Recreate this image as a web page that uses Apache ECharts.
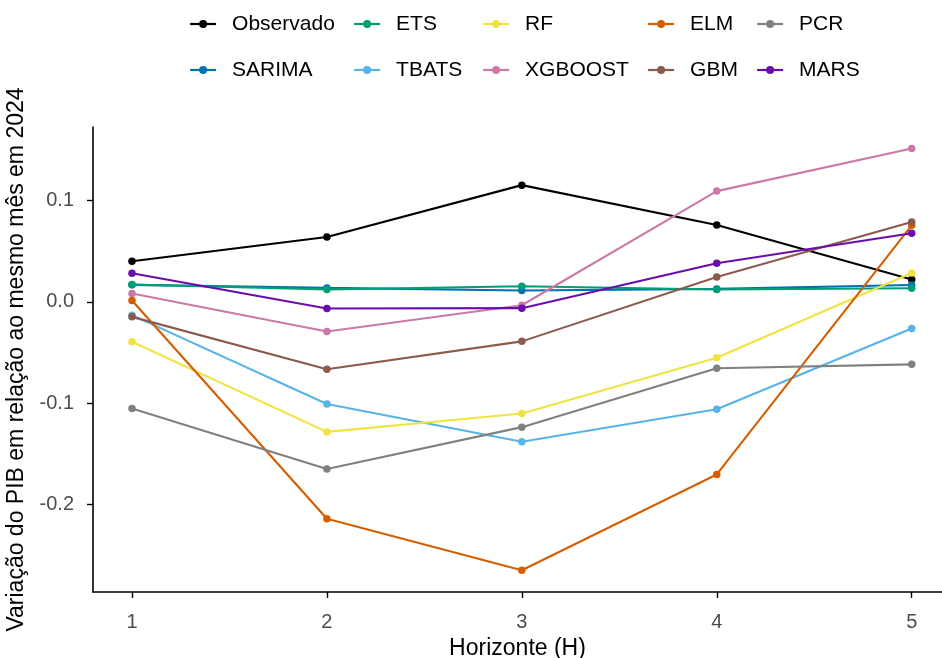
<!DOCTYPE html>
<html>
<head>
<meta charset="utf-8">
<script src="https://cdn.jsdelivr.net/npm/echarts@6/dist/echarts.min.js"></script>
<style>
html,body{margin:0;padding:0;background:#fff;}
#chart{width:942px;height:658px;}
</style>
</head>
<body>
<div id="chart"></div>
<script>
// ---- data ----
const horizons = [1, 2, 3, 4, 5];
const seriesNames = ["Observado", "SARIMA", "ETS", "TBATS", "RF", "XGBOOST", "ELM", "GBM", "PCR", "MARS"];
const observado = [0.0401, 0.0640, 0.1153, 0.0759, 0.0221];
const sarima    = [0.0168, 0.0138, 0.0112, 0.0128, 0.0167];
const ets       = [0.0172, 0.0122, 0.0155, 0.0122, 0.0135];
const tbats     = [-0.0131, -0.1008, -0.1382, -0.1060, -0.0262];
const rf        = [-0.0394, -0.1284, -0.1103, -0.0552, 0.0286];
const xgboost   = [0.0083, -0.0292, -0.0033, 0.1094, 0.1514];
const elm       = [0.0014, -0.2141, -0.2650, -0.1704, 0.0756];
const gbm       = [-0.0148, -0.0666, -0.0390, 0.0246, 0.0788];
const pcr       = [-0.1054, -0.1651, -0.1237, -0.0656, -0.0617];
const mars      = [0.0283, -0.0065, -0.0062, 0.0381, 0.0677];
const yTicks = [-0.2, -0.1, 0.0, 0.1];
const xTicks = [1, 2, 3, 4, 5];

// ---- styling ----
const values = [observado, sarima, ets, tbats, rf, xgboost, elm, gbm, pcr, mars];
const colors = ["#000000", "#0072B2", "#009E73", "#56B4E9", "#F0E442", "#CC79A7", "#D55E00", "#8C5A4B", "#808080", "#6A0DAD"];
// legend layout: [left of icon, row]
const legendPos = [[189, 0], [189, 1], [353, 0], [353, 1], [482, 0], [482, 1], [647, 0], [647, 1], [756, 0], [756, 1]];
const rowCenters = [24, 70];
const FONT = "Liberation Sans, Arial, Helvetica, sans-serif";

const series = seriesNames.map((name, k) => ({
  name: name,
  type: "line",
  data: horizons.map((h, i) => [h, values[k][i]]),
  symbol: "circle",
  symbolSize: 7.5,
  showSymbol: true,
  itemStyle: { color: colors[k] },
  lineStyle: { color: colors[k], width: 2.1 },
  emphasis: { disabled: true },
  z: 2 + k
}));

const legends = seriesNames.map((name, k) => ({
  data: [name],
  left: legendPos[k][0],
  top: rowCenters[legendPos[k][1]] - 11,
  padding: 0,
  itemWidth: 26,
  itemHeight: 10,
  selectedMode: false,
  lineStyle: { width: 2.2 },
  textStyle: { fontFamily: FONT, fontSize: 21, color: "#000", lineHeight: 22, padding: [0, 0, 0, 11] }
}));

const chart = echarts.init(document.getElementById("chart"), null, { renderer: "canvas" });
chart.setOption({
  animation: false,
  backgroundColor: "#fff",
  textStyle: { fontFamily: FONT },
  legend: legends,
  grid: { left: 93, right: 0, top: 127, bottom: 66, containLabel: false, outerBoundsMode: "none" },
  xAxis: {
    type: "value",
    min: 0.8,
    max: 5.1555,
    name: "Horizonte (H)",
    nameLocation: "middle",
    nameGap: 43,
    nameTextStyle: { fontFamily: FONT, fontSize: 23, color: "#000" },
    axisLine: { show: true, onZero: false, lineStyle: { color: "#000", width: 1.6 } },
    axisTick: { show: true, length: 6, lineStyle: { color: "#000", width: 1.4 }, customValues: xTicks },
    axisLabel: { show: true, margin: 20, fontSize: 20, color: "#4D4D4D", fontFamily: FONT, customValues: xTicks, formatter: v => String(v) },
    splitLine: { show: false }
  },
  yAxis: {
    type: "value",
    min: -0.2865,
    max: 0.1727,
    name: "Variação do PIB em relação ao mesmo mês em 2024",
    nameLocation: "middle",
    nameGap: 58,
    nameTextStyle: { fontFamily: FONT, fontSize: 23, color: "#000" },
    axisLine: { show: true, onZero: false, lineStyle: { color: "#000", width: 1.6 } },
    axisTick: { show: true, length: 6, lineStyle: { color: "#000", width: 1.4 }, customValues: yTicks },
    axisLabel: { show: true, margin: 19, fontSize: 20, color: "#4D4D4D", fontFamily: FONT, customValues: yTicks, formatter: v => Number(v).toFixed(1) },
    splitLine: { show: false }
  },
  series: series
});
</script>
</body>
</html>
